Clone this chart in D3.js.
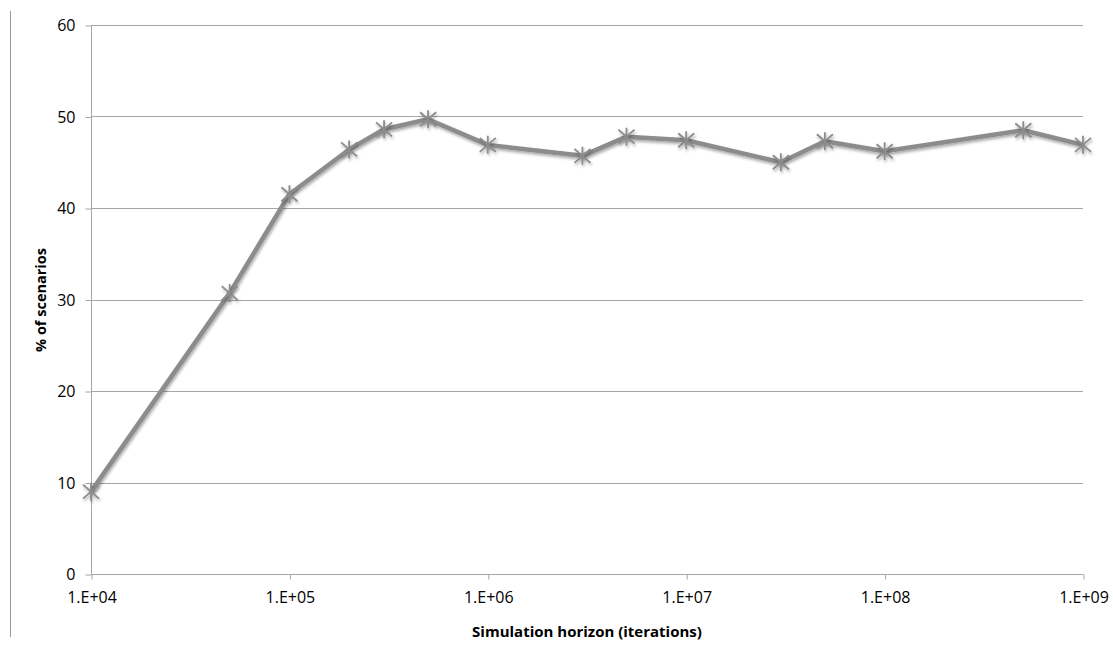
<!DOCTYPE html>
<html><head><meta charset="utf-8">
<script src="https://cdn.jsdelivr.net/npm/d3@7"></script>
<style>body{margin:0;background:#fff;}svg{display:block;font-family:"Open Sans","Liberation Sans",sans-serif;}</style>
</head><body>
<svg id="c" width="1113" height="648"></svg>
<script>
const iterations = [1e4, 5e4, 1e5, 2e5, 3e5, 5e5, 1e6, 3e6, 5e6, 1e7, 3e7, 5e7, 1e8, 5e8, 1e9];
const pctScenarios = [9.0, 30.7, 41.5, 46.4, 48.6, 49.7, 46.9, 45.7, 47.8, 47.4, 45.0, 47.3, 46.2, 48.5, 46.9];
const xTicks = [1e4, 1e5, 1e6, 1e7, 1e8, 1e9];
const yTicks = [0, 10, 20, 30, 40, 50, 60];

const FONT = '"Open Sans","Liberation Sans",sans-serif';
const svg = d3.select("#c");
const x = d3.scaleLog().domain([1e4, 1e9]).range([91, 1083]);
const y = d3.scaleLinear().domain([0, 60]).range([574, 25]);

const defs = svg.append("defs");
const f = defs.append("filter").attr("id","sh").attr("x","-50%").attr("y","-50%").attr("width","200%").attr("height","200%");
f.append("feDropShadow").attr("dx",1).attr("dy",2).attr("stdDeviation",1.5).attr("flood-color","#000").attr("flood-opacity",0.35);

// outer left border line
svg.append("line").attr("x1",10.5).attr("x2",10.5).attr("y1",11).attr("y2",637).attr("stroke","#9a9a9a").attr("stroke-width",1);

// gridlines
svg.append("g").selectAll("line").data(yTicks.filter(d=>d>0)).join("line")
  .attr("x1",91).attr("x2",1083).attr("y1",d=>Math.round(y(d))+0.5).attr("y2",d=>Math.round(y(d))+0.5)
  .attr("stroke","#a6a6a6").attr("stroke-width",1);

// y axis
const ya = svg.append("g").attr("transform","translate(91.5,0.5)")
  .call(d3.axisLeft(y).tickValues(yTicks).tickSize(6).tickPadding(10).tickFormat(d3.format("d")));
ya.attr("font-family", FONT);
ya.select(".domain").attr("stroke","#a6a6a6").attr("d","M0,"+y(60)+"V"+y(0));
ya.selectAll(".tick line").attr("stroke","#a6a6a6");
ya.selectAll("text").attr("font-size",16).attr("fill","#000").attr("font-family",FONT);

// x axis
const xa = svg.append("g").attr("transform","translate(0.5,574.5)")
  .call(d3.axisBottom(x).tickValues(xTicks).tickSize(5).tickPadding(12)
    .tickFormat(d=>"1.E+" + String(Math.round(Math.log10(d))).padStart(2,"0")));
xa.attr("font-family", FONT);
xa.select(".domain").attr("stroke","#a6a6a6").attr("d","M91,0H1083");
xa.selectAll(".tick line").attr("stroke","#a6a6a6");
xa.selectAll("text").attr("font-size",16).attr("fill","#000").attr("font-family",FONT);

// line
const line = d3.line().x((d,i)=>x(iterations[i])).y(d=>y(d));
svg.append("path").datum(pctScenarios).attr("d",line).attr("fill","none")
  .attr("stroke","#8c8c8c").attr("stroke-width",4.5).attr("stroke-linejoin","round").attr("filter","url(#sh)");

// markers (asterisk)
const m = svg.append("g").selectAll("g").data(pctScenarios).join("g")
  .attr("transform",(d,i)=>`translate(${x(iterations[i])},${y(d)})`).attr("filter","url(#sh)");
m.append("path").attr("d","M-8,-7L8,7M-8,7L8,-7M0,-9V9").attr("stroke","#8c8c8c").attr("stroke-width",1.8).attr("fill","none");

// titles
svg.append("text").attr("x",587).attr("y",637).attr("text-anchor","middle")
  .attr("font-size",15).attr("font-weight","bold").text("Simulation horizon (iterations)");
svg.append("text").attr("transform","translate(46,300) rotate(-90)").attr("text-anchor","middle")
  .attr("font-size",14.5).attr("font-weight","bold").text("% of scenarios");
</script>
</body></html>
